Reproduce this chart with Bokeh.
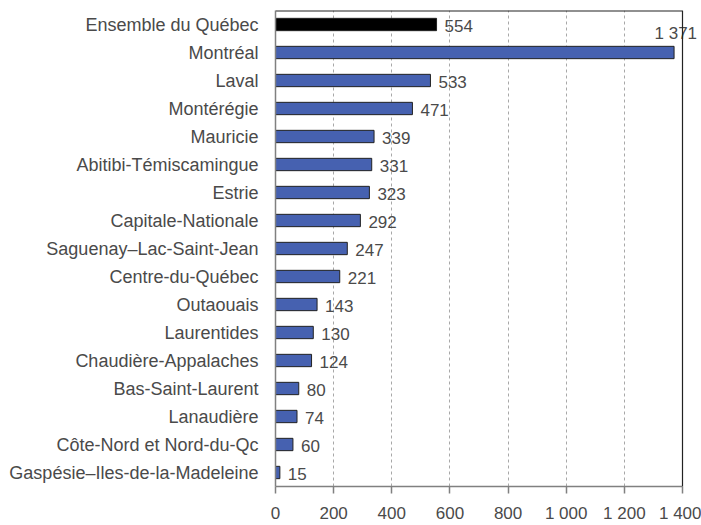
from bokeh.plotting import figure
from bokeh.models import ColumnDataSource, LabelSet, FixedTicker, FactorRange, Range1d, Span
from bokeh.core.properties import value
from bokeh.embed import file_html
from bokeh.resources import INLINE

regions = [
    "Ensemble du Québec", "Montréal", "Laval", "Montérégie", "Mauricie",
    "Abitibi-Témiscamingue", "Estrie", "Capitale-Nationale",
    "Saguenay–Lac-Saint-Jean", "Centre-du-Québec", "Outaouais", "Laurentides",
    "Chaudière-Appalaches", "Bas-Saint-Laurent", "Lanaudière",
    "Côte-Nord et Nord-du-Qc", "Gaspésie–Iles-de-la-Madeleine",
]
values = [554, 1371, 533, 471, 339, 331, 323, 292, 247, 221, 143, 130, 124, 80, 74, 60, 15]
tick_values = [0, 200, 400, 600, 800, 1000, 1200, 1400]
tick_labels = ["0", "200", "400", "600", "800", "1 000", "1 200", "1 400"]

BLUE = "#4661B0"
colors = ["#000000"] + [BLUE] * (len(regions) - 1)
labels = [f"{v:,}".replace(",", " ") for v in values]

TEXT = "#4a4a4a"
FONT = "Liberation Sans"
W, H = 701, 525
LEFT, BOX_W = 275, 407          # plot box: left edge and width in pixels
x_max = tick_values[-1]
# the drawing frame runs to the page's right edge so the "1 371" label is not clipped;
# the visible box (axis, grid, border) stops at x_max
x_end = x_max * (W - LEFT) / BOX_W

p = figure(
    width=W, height=H, output_backend="svg", toolbar_location=None,
    y_range=FactorRange(*reversed(regions), range_padding=0),
    x_range=Range1d(0, x_end),
    min_border_left=LEFT, min_border_right=0, min_border_top=10, min_border_bottom=36,
)

src = ColumnDataSource(dict(region=regions, value=values, color=colors, label=labels))
p.hbar(y="region", right="value", left=0, height=0.44, fill_color="color",
       line_color="#222222", line_width=1, source=src)

inside = [i for i, v in enumerate(values) if v <= 1200]
outside = [i for i, v in enumerate(values) if v > 1200]
src_in = ColumnDataSource(dict(region=[regions[i] for i in inside],
                               value=[values[i] for i in inside],
                               label=[labels[i] for i in inside]))
src_out = ColumnDataSource(dict(region=[regions[i] for i in outside],
                                value=[values[i] for i in outside],
                                label=[labels[i] for i in outside]))

p.add_layout(LabelSet(x="value", y="region", text="label", source=src_in,
                      x_offset=8, y_offset=-1, text_baseline="middle", text_align="left",
                      text_font=value(FONT), text_font_size="17px", text_color=TEXT))
p.add_layout(LabelSet(x="value", y="region", text="label", source=src_out,
                      x_offset=23, y_offset=19, text_baseline="middle", text_align="right",
                      text_font=value(FONT), text_font_size="17px", text_color=TEXT))

# box border: right edge at x_max, top edge across 0..x_max
p.add_layout(Span(location=x_max, dimension="height", line_color="#222222", line_width=1.2))
p.segment(x0=[0], x1=[x_max], y0=[len(regions)], y1=[len(regions)],
          line_color="#222222", line_width=2)

# axes
p.xaxis.ticker = FixedTicker(ticks=tick_values)
p.xaxis.bounds = (0, x_max)
p.xaxis.major_label_overrides = {t: l for t, l in zip(tick_values, tick_labels)}
p.xaxis.minor_tick_line_color = None
p.xaxis.major_tick_in = 0
p.xaxis.major_tick_out = 7
p.xaxis.major_tick_line_color = "#808080"
p.xaxis.major_tick_line_width = 1.5
p.xaxis.axis_line_color = "#808080"
p.xaxis.axis_line_width = 1.5
p.xaxis.major_label_standoff = 10
p.xaxis.major_label_text_font = FONT
p.xaxis.major_label_text_font_size = "17px"
p.xaxis.major_label_text_color = TEXT

p.yaxis.major_tick_line_color = None
p.yaxis.minor_tick_line_color = None
p.yaxis.major_tick_out = 0
p.yaxis.major_tick_in = 0
p.yaxis.axis_line_color = "#808080"
p.yaxis.axis_line_width = 1.5
p.yaxis.major_label_standoff = 17
p.yaxis.major_label_text_font = FONT
p.yaxis.major_label_text_font_size = "18px"
p.yaxis.major_label_text_color = TEXT

p.ygrid.grid_line_color = None
p.xgrid.grid_line_color = "#a8a8a8"
p.xgrid.grid_line_dash = "3 3"
p.xgrid.grid_line_width = 1

p.outline_line_color = None
p.background_fill_color = "white"
p.border_fill_color = "white"

open("out.html", "w").write(file_html(p, INLINE))
